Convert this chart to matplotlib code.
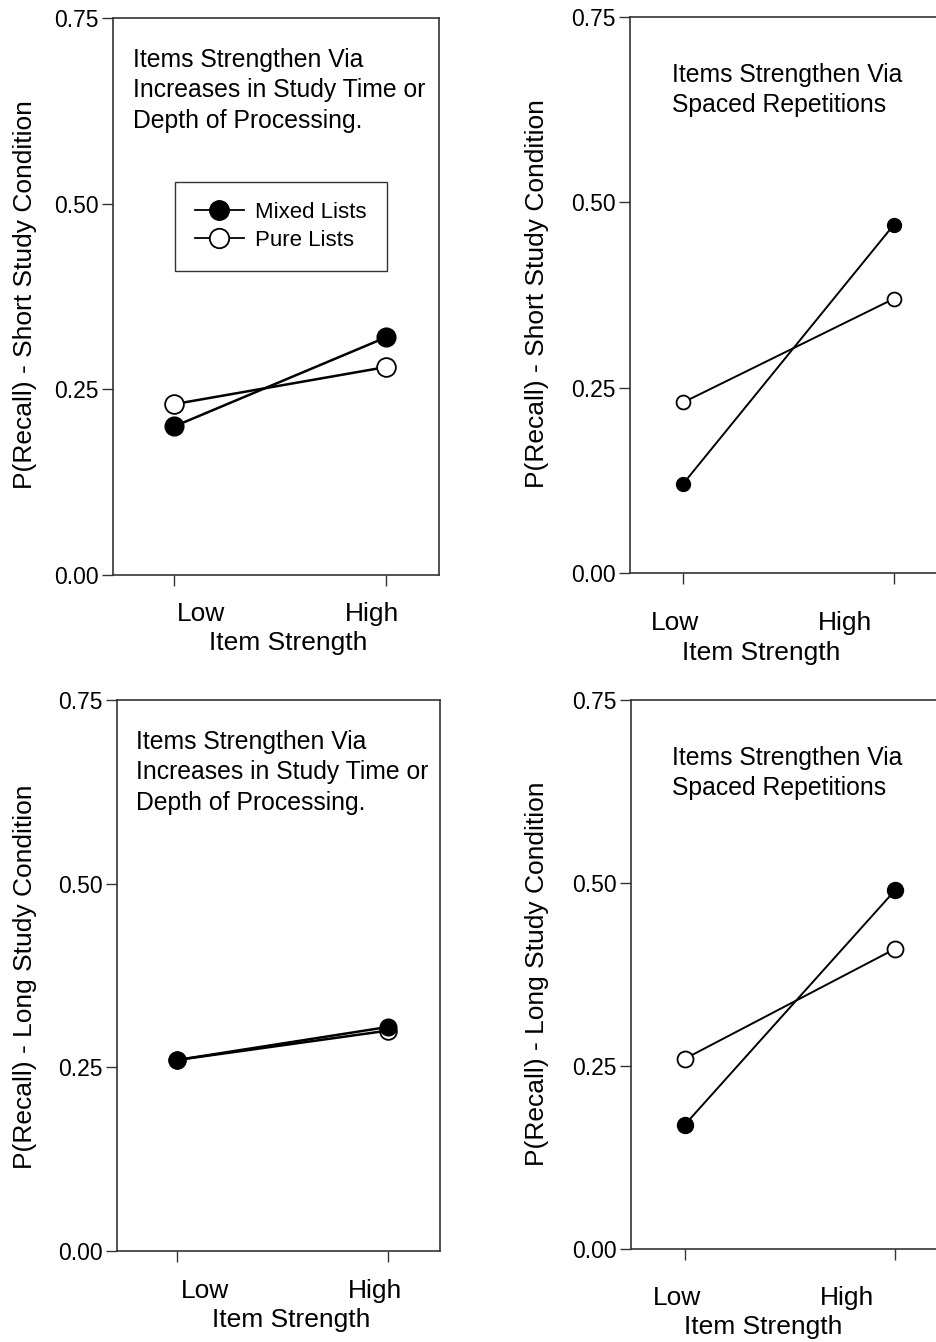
""" Recall by item strength: mixed vs pure lists, four panels. """
import matplotlib
matplotlib.use('Agg')
import matplotlib.pyplot as plt
from matplotlib.lines import Line2D

plt.rcParams['font.family'] = ['Liberation Sans', 'DejaVu Sans']

# data
strength_labels = ['Low', 'High']
y_ticks = [0.0, 0.25, 0.50, 0.75]
y_tick_labels = ['0.00', '0.25', '0.50', '0.75']

mixed_short_depth = [0.20, 0.32]
pure_short_depth = [0.23, 0.28]
mixed_short_spaced = [0.12, 0.47]
pure_short_spaced = [0.23, 0.37]
mixed_long_depth = [0.26, 0.305]
pure_long_depth = [0.26, 0.30]
mixed_long_spaced = [0.17, 0.49]
pure_long_spaced = [0.26, 0.41]

note_depth = "Items Strengthen Via\nIncreases in Study Time or\nDepth of Processing."
note_spaced = "Items Strengthen Via\nSpaced Repetitions"
ylabel_short = "P(Recall) - Short Study Condition"
ylabel_long = "P(Recall) - Long Study Condition"
legend_labels = ['Mixed Lists', 'Pure Lists']

W, H = 937, 1342
fig = plt.figure(figsize=(W / 100, H / 100), dpi=100)
SPINE = '#333333'


def panel(rect, xlim, mixed, pure, note, note_xy, ylabel, ylabel_xy,
          ms, lw, tick_dx, tick_dy, title_xy, box=False, legend=False):
    """ draw one panel; positions are given in figure pixels """
    left, top, right, bottom = rect
    ax = fig.add_axes([left / W, 1 - bottom / H, (right - left) / W,
                       (bottom - top) / H])
    x = list(range(len(strength_labels)))
    ax.plot(x, mixed, '-', color='black', lw=lw, marker='o', ms=ms,
            mfc='black', mec='black', zorder=3)
    ax.plot(x, pure, '-', color='black', lw=lw, marker='o', ms=ms,
            mfc='white', mec='black', mew=1.3, zorder=2)
    ax.set_xlim(*xlim)
    ax.set_ylim(0, 0.75)
    ax.set_yticks(y_ticks)
    ax.set_yticklabels(y_tick_labels, fontsize=16.5)
    ax.set_xticks(x)
    ax.set_xticklabels([])
    ax.tick_params(direction='out', length=8, width=1, color=SPINE, pad=2)
    for side in ['left', 'bottom', 'top', 'right']:
        ax.spines[side].set_color(SPINE)
        ax.spines[side].set_linewidth(1.2)
    if not box:
        ax.spines['right'].set_visible(False)
    # tick labels, offset from the ticks like the original
    for xi, lab, dx in zip(x, strength_labels, tick_dx):
        ax.annotate(lab, xy=(xi, 0), xycoords=('data', 'axes fraction'),
                    xytext=(dx, -tick_dy), textcoords='offset pixels',
                    ha='center', va='center', fontsize=19)
    fig.text(title_xy[0] / W, 1 - title_xy[1] / H, 'Item Strength',
             ha='center', va='center', fontsize=19)
    fig.text(ylabel_xy[0] / W, 1 - ylabel_xy[1] / H, ylabel, rotation=90,
             ha='center', va='center', fontsize=19)
    fig.text(note_xy[0] / W, 1 - note_xy[1] / H, note, ha='left', va='top',
             fontsize=17.8, linespacing=1.33)
    if legend:
        handles = [Line2D([], [], color='black', lw=1.3, marker='o', ms=14,
                          mfc='black', mec='black'),
                   Line2D([], [], color='black', lw=1.3, marker='o', ms=14,
                          mfc='white', mec='black', mew=1.3)]
        leg = ax.legend(handles, legend_labels, loc='upper left',
                        bbox_to_anchor=((175 - left) / (right - left),
                                        (bottom - 182) / (bottom - top)),
                        fontsize=16, frameon=True, fancybox=False,
                        handlelength=2.2, handletextpad=0.5,
                        borderpad=0.9, labelspacing=0.3,
                        borderaxespad=0)
        leg.get_frame().set_edgecolor('black')
        leg.get_frame().set_linewidth(1.0)
    return ax


panel((113, 18, 439, 575), (-0.288, 1.25), mixed_short_depth,
      pure_short_depth, note_depth, (133, 48), ylabel_short, (25, 295),
      ms=13.5, lw=1.8, tick_dx=(27, -14), tick_dy=39, title_xy=(288, 643),
      box=True, legend=True)
panel((630, 17, 956, 573), (-0.251, 1.294), mixed_short_spaced,
      pure_short_spaced, note_spaced, (672, 63), ylabel_short, (537, 294),
      ms=10, lw=1.4, tick_dx=(-8, -49), tick_dy=50, title_xy=(761, 653))
panel((117, 700, 440, 1251), (-0.284, 1.246), mixed_long_depth,
      pure_long_depth, note_depth, (136, 730), ylabel_long, (25, 977),
      ms=12, lw=1.8, tick_dx=(28, -13), tick_dy=40, title_xy=(291, 1320),
      box=True)
panel((631, 700, 957, 1249), (-0.257, 1.295), mixed_long_spaced,
      pure_long_spaced, note_spaced, (672, 746), ylabel_long, (537, 974),
      ms=11.5, lw=1.4, tick_dx=(-8, -48), tick_dy=49, title_xy=(763, 1327))

fig.savefig('out.png', dpi=100)
